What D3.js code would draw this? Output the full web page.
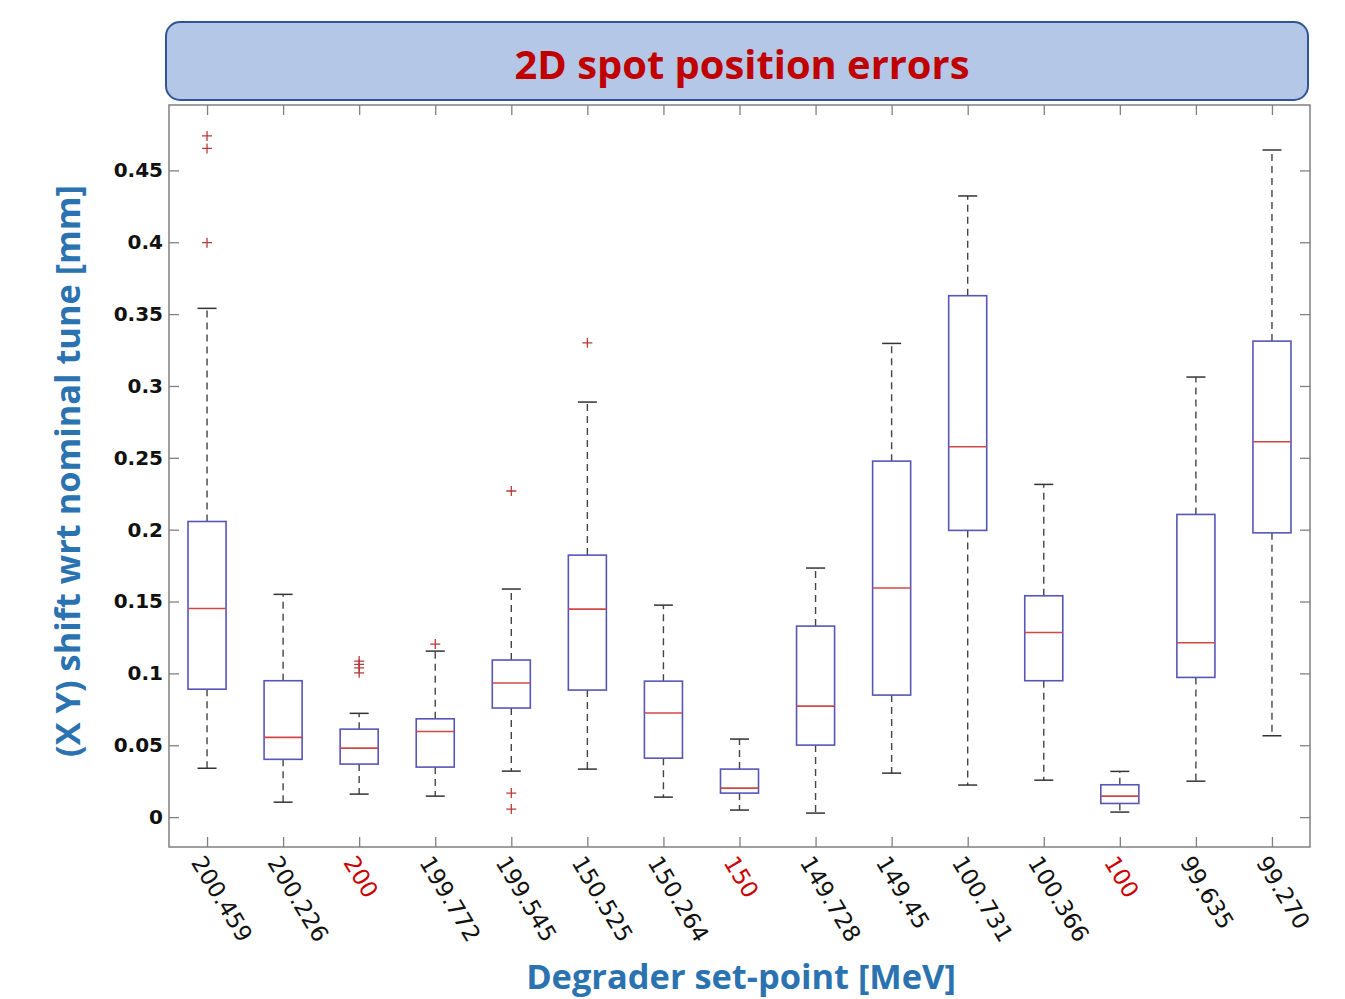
<!DOCTYPE html>
<html>
<head>
<meta charset="utf-8">
<script src="https://cdn.jsdelivr.net/npm/d3@7"></script>
<style>
  body { margin: 0; background: #fff; }
  svg { display: block; }
</style>
</head>
<body>
<div id="chart"></div>
<script>
// Degrader set-points (nominal ones are drawn in red)
const labels = ["200.459", "200.226", "200", "199.772", "199.545", "150.525", "150.264", "150",
                "149.728", "149.45", "100.731", "100.366", "100", "99.635", "99.270"];
const nominal = ["200", "150", "100"];

// box statistics [mm]
const whiskerLow  = [0.034, 0.0104, 0.016, 0.0146, 0.032, 0.0334, 0.0139, 0.0049, 0.0028, 0.0306, 0.0223, 0.0257, 0.0035, 0.025, 0.0566];
const q1          = [0.089, 0.0402, 0.0369, 0.0348, 0.0759, 0.0884, 0.041, 0.0167, 0.0501, 0.0849, 0.1995, 0.0949, 0.0095, 0.0972, 0.1978];
const median      = [0.1452, 0.0555, 0.048, 0.0596, 0.0933, 0.1447, 0.0724, 0.0202, 0.0772, 0.1594, 0.2577, 0.1285, 0.0146, 0.1213, 0.2612];
const q3          = [0.2057, 0.0949, 0.0612, 0.0684, 0.1093, 0.1823, 0.0946, 0.0334, 0.1329, 0.2477, 0.3628, 0.154, 0.0225, 0.2106, 0.3312];
const whiskerHigh = [0.354, 0.155, 0.0722, 0.1155, 0.1587, 0.2888, 0.1475, 0.0543, 0.1733, 0.3296, 0.4322, 0.2315, 0.0318, 0.3062, 0.4642];
const outliers = [
    [0.474, 0.4653, 0.3997], [], [0.1086, 0.1063, 0.1038, 0.1004], [0.1204], [0.2269, 0.0167, 0.0056],
    [0.33], [], [], [], [], [], [], [], [], []
];

const yTicks = [0, 0.05, 0.1, 0.15, 0.2, 0.25, 0.3, 0.35, 0.4, 0.45];

const width = 1345;
const height = 999;
const plot = { left: 169, right: 1310, top: 105, bottom: 847 };

const svg = d3.select("#chart").append("svg")
    .attr("width", width)
    .attr("height", height)
    .attr("viewBox", [0, 0, width, height]);

// scales
const x = d3.scaleLinear()
    .domain([0.5, labels.length + 0.5])
    .range([plot.left, plot.right]);

const y = d3.scaleLinear()
    .domain([-0.0208, 0.4955])
    .range([plot.bottom, plot.top]);

const positions = labels.map((d, i) => i + 1);
const boxHalf = 0.25;
const capHalf = 0.125;

// the slide text is Calibri, which is not here: scale the font so the width matches
function fitWidth(text, target) {
    const w = text.node().getComputedTextLength();
    const size = +text.attr("font-size");
    text.attr("font-size", size * target / w);
}

// title banner
svg.append("rect")
    .attr("x", 166).attr("y", 22)
    .attr("width", 1142).attr("height", 78)
    .attr("rx", 14)
    .attr("fill", "#b4c7e7")
    .attr("stroke", "#2f5597")
    .attr("stroke-width", 2);

svg.append("text")
    .attr("x", 742).attr("y", 79)
    .attr("text-anchor", "middle")
    .attr("font-family", "'Open Sans', Lato, sans-serif")
    .attr("font-weight", "bold")
    .attr("font-size", 40)
    .attr("fill", "#c00000")
    .text("2D spot position errors")
    .call(fitWidth, 455);

// axes (ticks point inward, like MATLAB)
const tickStyle = g => {
    g.select(".domain").remove();
    g.selectAll(".tick line").attr("stroke", "#808080").attr("stroke-width", 1.3);
};

svg.append("g")
    .attr("transform", `translate(${plot.left},0)`)
    .call(d3.axisLeft(y).tickValues(yTicks).tickSize(-10).tickPadding(6)
        .tickFormat(d => String(+d.toFixed(2))))
    .call(tickStyle)
    .call(g => g.selectAll(".tick text")
        .attr("font-family", "'DejaVu Sans', Verdana, sans-serif")
        .attr("font-weight", "bold")
        .attr("font-size", 20)
        .attr("fill", "#111"));

svg.append("g")
    .attr("transform", `translate(${plot.right},0)`)
    .call(d3.axisRight(y).tickValues(yTicks).tickSize(-10).tickFormat(""))
    .call(tickStyle);

svg.append("g")
    .attr("transform", `translate(0,${plot.top})`)
    .call(d3.axisTop(x).tickValues(positions).tickSize(-10).tickFormat(""))
    .call(tickStyle);

svg.append("g")
    .attr("transform", `translate(0,${plot.bottom})`)
    .call(d3.axisBottom(x).tickValues(positions).tickSize(-10)
        .tickFormat(d => labels[d - 1]))
    .call(tickStyle)
    .call(g => g.selectAll(".tick text")
        .attr("x", 0).attr("y", 0).attr("dy", "0.35em")
        .attr("transform", "translate(-10,11) rotate(59)")
        .attr("text-anchor", "start")
        .attr("font-family", "'DejaVu Sans', Verdana, sans-serif")
        .attr("font-size", 23)
        .attr("fill", d => nominal.includes(labels[d - 1]) ? "#cc0000" : "#111"));

// plot frame
svg.append("rect")
    .attr("x", plot.left).attr("y", plot.top)
    .attr("width", plot.right - plot.left)
    .attr("height", plot.bottom - plot.top)
    .attr("fill", "none")
    .attr("stroke", "#808080")
    .attr("stroke-width", 1.5);

// boxplots
const boxes = svg.append("g")
    .selectAll("g")
    .data(positions)
    .join("g");

// dashed whiskers
boxes.append("line")
    .attr("x1", d => x(d)).attr("x2", d => x(d))
    .attr("y1", (d, i) => y(q3[i])).attr("y2", (d, i) => y(whiskerHigh[i]))
    .attr("stroke", "#444").attr("stroke-width", 1.4).attr("stroke-dasharray", "7,5");

boxes.append("line")
    .attr("x1", d => x(d)).attr("x2", d => x(d))
    .attr("y1", (d, i) => y(q1[i])).attr("y2", (d, i) => y(whiskerLow[i]))
    .attr("stroke", "#444").attr("stroke-width", 1.4).attr("stroke-dasharray", "7,5");

// whisker caps
for (const w of [whiskerHigh, whiskerLow]) {
    boxes.append("line")
        .attr("x1", d => x(d - capHalf)).attr("x2", d => x(d + capHalf))
        .attr("y1", (d, i) => y(w[i])).attr("y2", (d, i) => y(w[i]))
        .attr("stroke", "#333").attr("stroke-width", 1.5);
}

// box
boxes.append("rect")
    .attr("x", d => x(d - boxHalf))
    .attr("width", x(1 + boxHalf) - x(1 - boxHalf))
    .attr("y", (d, i) => y(q3[i]))
    .attr("height", (d, i) => y(q1[i]) - y(q3[i]))
    .attr("fill", "none")
    .attr("stroke", "#5656b8")
    .attr("stroke-width", 1.6);

// median
boxes.append("line")
    .attr("x1", d => x(d - boxHalf)).attr("x2", d => x(d + boxHalf))
    .attr("y1", (d, i) => y(median[i])).attr("y2", (d, i) => y(median[i]))
    .attr("stroke", "#d04848").attr("stroke-width", 1.6);

// outliers as red "+"
boxes.selectAll("path")
    .data((d, i) => outliers[i].map(v => [d, v]))
    .join("path")
    .attr("d", ([p, v]) => `M${x(p) - 5},${y(v)}h10M${x(p)},${y(v) - 5}v10`)
    .attr("stroke", "#b83a3a")
    .attr("stroke-width", 1.3)
    .attr("fill", "none");

// axis titles
svg.append("text")
    .attr("transform", "translate(80,471) rotate(-90)")
    .attr("text-anchor", "middle")
    .attr("font-family", "'Open Sans', Lato, sans-serif")
    .attr("font-weight", "bold")
    .attr("font-size", 34)
    .attr("fill", "#2a72b0")
    .text("(X Y) shift wrt nominal tune [mm]")
    .call(fitWidth, 572);

svg.append("text")
    .attr("x", 741).attr("y", 989)
    .attr("text-anchor", "middle")
    .attr("font-family", "'Open Sans', Lato, sans-serif")
    .attr("font-weight", "bold")
    .attr("font-size", 34)
    .attr("fill", "#2a72b0")
    .text("Degrader set-point [MeV]")
    .call(fitWidth, 430);
</script>
</body>
</html>
